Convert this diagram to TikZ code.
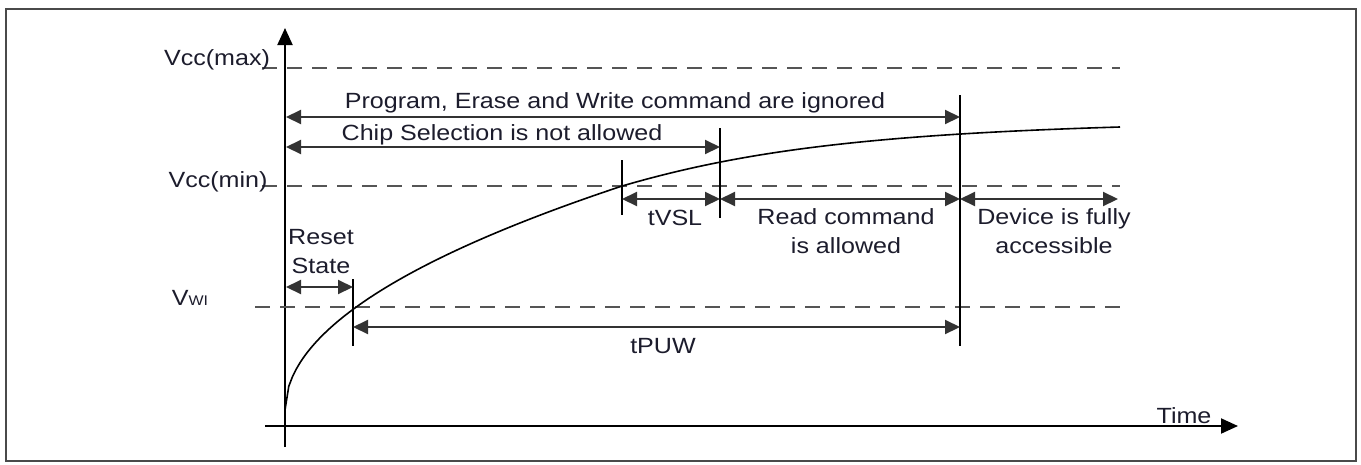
\documentclass[tikz,border=0pt]{standalone}
\usepackage{fontspec}
\setmainfont[FakeStretch=1.14]{Liberation Sans}
\usetikzlibrary{arrows.meta}
\definecolor{ink}{HTML}{000000}
\definecolor{txt}{HTML}{1C1C2C}
\definecolor{dashgray}{HTML}{555555}
\definecolor{dimgray}{HTML}{333333}
\definecolor{frm}{HTML}{4A4A4A}
\tikzset{
  frame/.style={draw=frm, line width=2pt},
  axis/.style={draw=ink, line width=2pt, -{Triangle[length=17pt, width=15pt]}},
  level/.style={draw=dashgray, line width=2.3pt, dash pattern=on 15pt off 10pt},
  tickline/.style={draw=ink, line width=1.7pt},
  dim/.style={draw=dimgray, line width=2.1pt,
    {Triangle[length=15pt, width=14pt]}-{Triangle[length=15pt, width=14pt]}},
  rise/.style={draw=ink, line width=1.6pt},
  lab/.style={text=txt, font=\fontsize{22}{29}\selectfont, align=center, inner sep=0pt, anchor=base},
}

\begin{document}
\begin{tikzpicture}[x=1pt, y=-1pt]
  \useasboundingbox (0,0) rectangle (1361,464);
  \draw[frame] (6,9) rectangle (1356,461);

  % axes
  \coordinate (ybot) at (285,447);
  \coordinate (ytop) at (285,28);
  \coordinate (xbeg) at (265,426);
  \coordinate (xend) at (1238,426);
  \draw[axis] (ybot) -- (ytop);
  \draw[axis] (xbeg) -- (xend);
  \node[lab] (time) at (1184,423) {Time};

  % voltage levels
  \coordinate (vmaxL) at (262,68);  \coordinate (vmaxR) at (1120,68);
  \coordinate (vminL) at (262,186); \coordinate (vminR) at (1120,186);
  \coordinate (vwiL) at (255,307);  \coordinate (vwiR) at (1120,307);
  \draw[level] (vmaxL) -- (vmaxR);
  \draw[level] (vminL) -- (vminR);
  \draw[level] (vwiL) -- (vwiR);
  \node[lab] (vmax) at (217,65) {Vcc(max)};
  \node[lab] (vmin) at (218,187) {Vcc(min)};
  \node[lab] (vwi) at (190,305) {V{\fontsize{14}{14}\selectfont WI}};

  % supply ramp
  \draw[rise] plot[domain=0:337, samples=90] ({285+\x},{410-12.2*sqrt(\x)})
    .. controls (742,151) and (870,134.5) .. (1120,127);

  % time markers
  \coordinate (pwA) at (353,279); \coordinate (pwB) at (353,346);
  \coordinate (vsA) at (622,160); \coordinate (vsB) at (622,215);
  \coordinate (csA) at (720,128); \coordinate (csB) at (720,218);
  \coordinate (fuA) at (960,95);  \coordinate (fuB) at (960,346);
  \draw[tickline] (pwA) -- (pwB);
  \draw[tickline] (vsA) -- (vsB);
  \draw[tickline] (csA) -- (csB);
  \draw[tickline] (fuA) -- (fuB);

  % intervals
  \coordinate (pgL) at (286,117); \coordinate (pgR) at (960,117);
  \coordinate (chL) at (286,147); \coordinate (chR) at (720,147);
  \coordinate (vsl) at (622,199); \coordinate (rdL) at (720,199);
  \coordinate (rdR) at (960,199); \coordinate (dvR) at (1118,199);
  \coordinate (rsL) at (286,287); \coordinate (rsR) at (353,287);
  \coordinate (puL) at (353,327); \coordinate (puR) at (960,327);
  \draw[dim] (pgL) -- (pgR);
  \draw[dim] (chL) -- (chR);
  \draw[dim] (vsl) -- (rdL);
  \draw[dim] (rdL) -- (rdR);
  \draw[dim] (rdR) -- (dvR);
  \draw[dim] (rsL) -- (rsR);
  \draw[dim] (puL) -- (puR);

  % labels
  \node[lab] (prog) at (615,108) {Program, Erase and Write command are ignored};
  \node[lab] (chip) at (502,140) {Chip Selection is not allowed};
  \node[lab] (tvsl) at (675,225) {tVSL};
  \node[lab] (read) at (846,253) {Read command\\is allowed};
  \node[lab] (full) at (1054,253) {Device is fully\\accessible};
  \node[lab] (reset) at (321,273) {Reset\\State};
  \node[lab] (tpuw) at (663,353) {tPUW};
\end{tikzpicture}
\end{document}
